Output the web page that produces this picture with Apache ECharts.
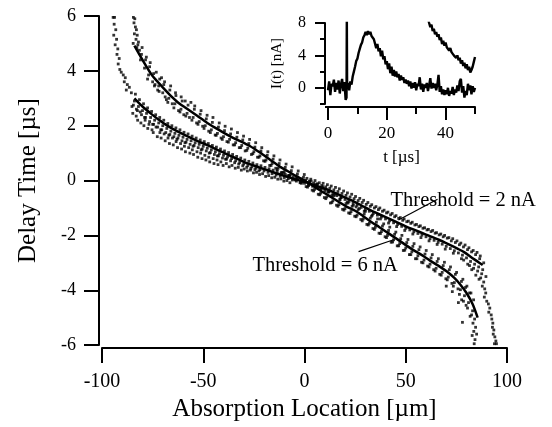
<!DOCTYPE html>
<html>
<head>
<meta charset="utf-8">
<script src="https://cdn.jsdelivr.net/npm/echarts@6/dist/echarts.min.js"></script>
<style>
html,body{margin:0;padding:0;background:#fff}
#wrap{position:relative;width:552px;height:427px}
#c{position:absolute;left:0;top:0;width:552px;height:427px}
#inset{position:absolute;left:200px;top:0;width:352px;height:200px}
</style>
</head>
<body>
<div id="wrap"><div id="c"></div><div id="inset"></div></div>
<script>
// ---- main plot: smooth fit curves ----
const curve6X = [-84, -80, -75, -70, -66, -62, -58, -53, -48, -44, -40, -35, -30, -27, -22, -17, -12, -8, -4, 0, 4, 8, 12, 17, 21, 25, 29, 33, 37, 41, 45, 49, 53, 58, 62, 66, 70, 74, 77, 80, 83, 85.5];
const curve6Y = [4.92, 4.4, 3.81, 3.4, 3.09, 2.82, 2.62, 2.36, 2.1, 1.92, 1.75, 1.55, 1.37, 1.26, 1.02, 0.76, 0.5, 0.33, 0.16, 0.0, -0.18, -0.37, -0.55, -0.78, -0.96, -1.1, -1.3, -1.51, -1.7, -1.9, -2.1, -2.3, -2.5, -2.72, -2.92, -3.1, -3.3, -3.55, -3.8, -4.1, -4.5, -5.0];
const curve2X = [-84, -80, -76, -72, -68, -63, -58, -53, -48, -43, -39, -35, -30, -24, -18, -12, -6, 0, 6, 12, 18, 24, 28, 33, 39, 45, 50, 55, 60, 66, 71, 76, 79, 82, 85, 88];
const curve2Y = [3.0, 2.7, 2.45, 2.22, 2.01, 1.8, 1.62, 1.45, 1.29, 1.12, 0.98, 0.85, 0.68, 0.52, 0.37, 0.22, 0.08, -0.05, -0.2, -0.35, -0.55, -0.75, -0.9, -1.1, -1.3, -1.5, -1.67, -1.82, -1.97, -2.15, -2.32, -2.5, -2.62, -2.78, -2.93, -3.08];

// ---- main plot: measured points ----
const points6nA = [
[-84.5,5.95],[-83.8,5.9],[-84.2,5.75],[-83.5,5.6],[-83,5.5],[-84,5.35],[-82.6,5.3],[-83.2,5.15],[-82,5.05],[-84.6,5.0],[-82.8,4.85],[-81.5,4.75],
[-81,4.4],[-80.5,4.6],[-79,4.1],[-78.5,4.4],[-77,3.85],[-76.5,4.15],[-77.5,3.7],[-75,3.6],[-74.5,3.9],[-73.8,3.5],
[-72,3.45],[-71.5,3.7],[-72.5,3.3],[-70,3.2],[-69.5,3.5],[-68.8,3.05],[-67,3.0],[-66.5,3.3],[-67.5,2.85],
[-64,2.8],[-63.5,3.1],[-64.5,2.65],[-61,2.6],[-60.4,2.9],[-61.5,2.5],[-58,2.45],[-57.5,2.75],[-58.6,2.35],
[-55,2.3],[-54.4,2.6],[-55.6,2.2],[-52,2.15],[-51.5,2.42],[-52.6,2.05],[-49,2.0],[-48.5,2.25],[-49.6,1.9],
[-46,1.85],[-45.5,2.12],[-46.5,1.75],[-43,1.72],[-42.5,1.95],[-43.6,1.65],[-40,1.6],[-39.5,1.82],[-40.6,1.5],
[-37,1.5],[-36.5,1.7],[-37.6,1.4],[-34,1.38],[-33.4,1.58],[-34.5,1.3],[-31,1.28],[-30.5,1.48],[-31.5,1.2],
[-28,1.18],[-27.5,1.35],[-28.5,1.1],[-25,1.05],[-24.5,1.22],[-25.5,0.98],[-22,0.9],[-21.5,1.08],[-22.5,0.85],
[-19,0.75],[-18.4,0.92],[-19.5,0.7],[-16,0.62],[-15.5,0.78],[-16.5,0.55],[-13,0.45],[-12.5,0.62],[-13.5,0.4],
[-10,0.32],[-9.5,0.48],[-10.5,0.28],[-7,0.2],[-6.5,0.36],[-7.5,0.15],[-4,0.08],[-3.5,0.24],[-4.5,0.02],
[-1,-0.05],[-0.5,0.12],[-1.5,-0.1],[2,-0.18],[2.5,-0.02],[1.5,-0.24],[5,-0.32],[5.5,-0.15],[4.5,-0.38],
[8,-0.46],[8.5,-0.28],[7.5,-0.52],[11,-0.6],[11.5,-0.42],[10.5,-0.66],[14,-0.74],[14.5,-0.55],[13.5,-0.8],
[17,-0.88],[17.5,-0.7],[16.5,-0.94],[20,-1.02],[20.5,-0.84],[19.5,-1.08],[23,-1.13],[23.5,-0.94],[22.5,-1.2],
[26,-1.26],[26.5,-1.06],[25.5,-1.32],[29,-1.4],[29.5,-1.22],[28.5,-1.47],[32,-1.56],[32.5,-1.37],[31.5,-1.62],
[35,-1.7],[35.5,-1.52],[34.5,-1.78],[38,-1.86],[38.5,-1.66],[37.5,-1.93],[41,-2.0],[41.5,-1.82],[40.5,-2.08],
[44,-2.16],[44.5,-1.96],[43.5,-2.24],[47,-2.3],[47.5,-2.12],[46.5,-2.38],[50,-2.46],[50.5,-2.26],[49.5,-2.54],
[53,-2.6],[53.5,-2.4],[52.5,-2.7],[56,-2.74],[56.5,-2.52],[55.5,-2.85],[59,-2.9],[59.5,-2.68],[58.5,-3.0],
[62,-3.05],[62.5,-2.82],[61.5,-3.15],[65,-3.2],[65.5,-2.95],[64.5,-3.3],[68,-3.35],[68.5,-3.1],[67.5,-3.45],
[71,-3.52],[71.5,-3.25],[70.5,-3.62],[74,-3.72],[74.5,-3.42],[73.5,-3.85],[77,-3.98],[77.5,-3.68],[76.5,-4.15],
[79,-4.2],[79.5,-3.9],[78.5,-4.4],[81,-4.45],[81.5,-4.1],[80.5,-4.65],[83,-4.75],[82.5,-4.9],[83.5,-4.35],
[84,-5.05],[83.2,-5.2],[84.5,-5.35],[83.6,-5.5],[82.8,-5.65],[84.2,-5.8],[83.8,-5.95],[78,-5.17],[85,-5.6],
[-82.3,4.95],[-80.2,4.85],[-78.1,4.5],[-76.2,4.3],[-74.1,3.45],[-73.2,3.95],[-71.8,3.25],[-70.6,3.75],[-69.1,3.6],[-68.2,2.95],
[-66.1,3.45],[-65.3,2.8],[-63.7,3.2],[-62.2,2.55],[-60.9,3.05],[-59.6,2.4],[-58.9,2.9],[-56.8,2.3],[-56.1,2.85],[-54.2,2.72],
[-53.3,2.1],[-51.1,2.55],[-50.3,1.98],[-48.1,2.38],[-47.3,1.8],[-45.2,2.3],[-44.1,1.66],[-42.1,2.1],[-41.2,1.55],[-39.2,1.98],
[-38.3,1.42],[-36.1,1.88],[-35.2,1.3],[-33.1,1.75],[-32.2,1.2],[-30.1,1.62],[-29.3,1.08],[-27.1,1.5],[-26.2,0.95],[-24.1,1.38],
[-23.2,0.85],[-21.1,1.2],[-20.2,0.72],[-18.1,1.05],[-17.2,0.55],[-15.1,0.9],[-14.2,0.45],[-12.1,0.75],[-11.2,0.3],[-9.1,0.6],
[-8.2,0.18],[-6.1,0.5],[-5.2,0.05],[-3.1,0.35],[-2.2,-0.08],[-0.1,0.22],[0.8,-0.22],[3.1,0.05],[3.8,-0.35],[6.1,-0.12],
[6.8,-0.5],[9.1,-0.22],[9.8,-0.62],[12.1,-0.4],[12.8,-0.82],[15.1,-0.5],[15.8,-0.9],[18.1,-0.62],[18.8,-1.05],[21.1,-0.78],
[21.8,-1.18],[24.1,-0.9],[24.8,-1.3],[27.1,-1.02],[27.8,-1.42],[30.1,-1.12],[30.8,-1.6],[33.1,-1.3],[33.8,-1.75],[36.1,-1.4],
[36.8,-1.92],[39.1,-1.58],[39.8,-2.05],[42.1,-1.7],[42.8,-2.25],[45.1,-1.88],[45.8,-2.38],[48.1,-2.0],[48.8,-2.55],[51.1,-2.15],
[51.8,-2.7],[54.1,-2.3],[54.8,-2.85],[57.1,-2.42],[57.8,-2.98],[60.1,-2.55],[60.8,-3.12],[63.1,-2.7],[63.8,-3.25],[66.1,-2.85],
[66.8,-3.42],[69.1,-2.98],[69.8,-3.58],[72.1,-3.15],[72.8,-3.75],[75.1,-3.35],[75.8,-3.95],[77.6,-4.35],[78.2,-3.6],[79.8,-4.55],
[80.2,-3.85],[81.8,-4.95],[82.2,-4.1],[76,-4.45],[73,-4.05],[70,-3.85]
];
const points2nA = [
[-94.5,5.95],[-93.8,5.95],[-94,5.7],[-93.2,5.5],[-94.2,5.3],[-92.8,5.15],[-93.5,4.95],[-92.2,4.8],[-92.6,4.6],[-91.5,4.45],
[-92,4.25],[-91.2,4.05],[-90.5,3.95],[-89.5,3.85],[-88.5,3.75],[-89,3.6],[-87.5,3.5],[-86.5,3.4],[-88,3.3],[-85.5,3.2],
[-84,2.9],[-83.5,3.15],[-84.5,2.75],[-83,2.6],[-82,2.7],[-81.5,2.95],[-82.5,2.55],[-80,2.55],[-79.5,2.8],[-80.5,2.4],[-79,2.3],
[-78,2.45],[-77.5,2.65],[-78.5,2.3],[-76,2.3],[-75.5,2.52],[-76.5,2.15],[-75,2.05],[-74,2.2],[-73.5,2.4],[-74.5,2.05],
[-72,2.1],[-71.5,2.3],[-72.5,1.95],[-71,1.85],[-70,2.0],[-69.5,2.2],[-70.5,1.85],[-68,1.9],[-67.5,2.08],[-68.5,1.75],[-67,1.65],
[-66,1.8],[-65.5,2.0],[-66.5,1.68],[-64,1.72],[-63.5,1.92],[-64.5,1.6],[-63,1.5],[-62,1.65],[-61.5,1.85],[-62.5,1.55],
[-60,1.58],[-59.5,1.76],[-60.5,1.45],[-59,1.38],[-58,1.5],[-57.5,1.7],[-58.5,1.4],[-56,1.45],[-55.5,1.62],[-56.5,1.32],[-55,1.25],
[-54,1.38],[-53.5,1.55],[-54.5,1.28],[-52,1.32],[-51.5,1.48],[-52.5,1.2],[-51,1.12],[-50,1.25],[-49.5,1.42],[-50.5,1.15],
[-48,1.18],[-47.5,1.35],[-48.5,1.08],[-47,1.0],[-46,1.12],[-45.5,1.28],[-46.5,1.02],[-44,1.05],[-43.5,1.22],[-44.5,0.95],[-43,0.9],
[-42,0.98],[-41.5,1.15],[-42.5,0.9],[-40,0.92],[-39.5,1.08],[-40.5,0.82],[-39,0.78],[-38,0.86],[-37.5,1.02],[-38.5,0.78],
[-36,0.8],[-35.5,0.95],[-36.5,0.72],[-34,0.72],[-33.5,0.88],[-34.5,0.65],[-32,0.66],[-31.5,0.82],[-32.5,0.6],
[-30,0.6],[-29.5,0.75],[-30.5,0.54],[-28,0.55],[-27.5,0.7],[-28.5,0.48],[-26,0.5],[-25.5,0.64],[-26.5,0.44],
[-24,0.45],[-23.5,0.58],[-24.5,0.4],[-22,0.4],[-21.5,0.54],[-22.5,0.35],[-20,0.35],[-19.5,0.48],[-18,0.3],[-17.5,0.43],
[-16,0.25],[-15.5,0.38],[-14,0.2],[-13.5,0.33],[-12,0.16],[-11.5,0.28],[-10,0.11],[-9.5,0.23],[-8,0.07],[-7.5,0.19],
[-6,0.02],[-5.5,0.14],[-4,-0.02],[-3.5,0.1],[-2,-0.06],[-1.5,0.06],[0,-0.1],[0.5,0.01],[2,-0.16],[2.5,-0.04],
[4,-0.21],[4.5,-0.09],[6,-0.26],[6.5,-0.13],[8,-0.31],[8.5,-0.18],[10,-0.37],[10.5,-0.23],[12,-0.42],[12.5,-0.28],
[14,-0.49],[14.5,-0.34],[13.5,-0.55],[16,-0.55],[16.5,-0.4],[18,-0.62],[18.5,-0.47],[17.5,-0.68],[20,-0.69],[20.5,-0.54],
[22,-0.76],[22.5,-0.6],[21.5,-0.82],[24,-0.83],[24.5,-0.66],[26,-0.9],[26.5,-0.73],[25.5,-0.96],[28,-0.98],[28.5,-0.8],
[30,-1.05],[30.5,-0.87],[29.5,-1.12],[32,-1.12],[32.5,-0.94],[34,-1.2],[34.5,-1.0],[33.5,-1.26],[36,-1.26],[36.5,-1.06],
[38,-1.33],[38.5,-1.12],[37.5,-1.4],[40,-1.4],[40.5,-1.18],[42,-1.47],[42.5,-1.25],[41.5,-1.55],[44,-1.54],[44.5,-1.32],
[46,-1.6],[46.5,-1.38],[45.5,-1.68],[48,-1.67],[48.5,-1.45],[50,-1.74],[50.5,-1.5],[49.5,-1.82],[52,-1.8],[52.5,-1.56],
[54,-1.87],[54.5,-1.62],[53.5,-1.95],[56,-1.93],[56.5,-1.68],[58,-1.99],[58.5,-1.74],[57.5,-2.08],[60,-2.05],[60.5,-1.8],
[62,-2.12],[62.5,-1.86],[61.5,-2.2],[64,-2.18],[64.5,-1.92],[66,-2.25],[66.5,-1.98],[65.5,-2.33],[68,-2.32],[68.5,-2.05],
[70,-2.4],[70.5,-2.1],[69.5,-2.5],[72,-2.48],[72.5,-2.2],[74,-2.56],[74.5,-2.26],[73.5,-2.65],[76,-2.64],[76.5,-2.34],
[78,-2.72],[78.5,-2.42],[77.5,-2.85],[80,-2.82],[80.5,-2.52],[82,-2.95],[82.5,-2.6],[81.5,-3.1],[84,-3.05],[84.5,-2.7],[83.5,-3.2],
[86,-3.15],[86.5,-2.85],[85.5,-3.3],[88,-3.25],[87.5,-3.4],[88.5,-3.0],
[87,-3.55],[88.5,-3.7],[87.8,-3.85],[89,-3.95],[89.5,-4.1],[88.8,-4.25],[90,-4.4],[90.8,-4.5],[91.5,-4.65],[91,-4.8],
[92.2,-4.9],[92.5,-5.05],[93,-5.2],[92.8,-5.35],[93.5,-5.45],[93.2,-5.6],[94,-5.7],[94.5,-5.85],[93.8,-5.95],[94.8,-5.95],
[-85.2,2.7],[-84.8,2.45],[-83.1,2.35],[-82.4,2.2],[-81.1,2.5],[-80.8,2.1],[-79.3,2.0],[-78.7,2.2],[-77.4,1.9],[-76.8,2.05],
[-75.3,1.85],[-74.7,1.75],[-73.3,1.95],[-72.7,1.6],[-71.4,1.75],[-70.8,1.55],[-69.3,1.7],[-68.8,1.45],[-67.4,1.55],[-66.7,1.35],
[-65.2,1.55],[-64.8,1.3],[-63.4,1.42],[-62.7,1.2],[-61.2,1.35],[-60.7,1.15],[-59.3,1.25],[-58.8,1.05],[-57.2,1.2],[-56.6,1.0],
[-55.4,1.12],[-54.8,0.95],[-53.1,1.05],[-52.7,0.85],[-51.3,1.0],[-50.6,0.8],[-49.2,0.92],[-48.7,0.75],[-47.3,0.85],[-46.8,0.68],
[-45.1,0.8],[-44.7,0.62],[-43.2,0.75],[-42.7,0.58],[-41.3,0.68],[-40.2,0.55],[-38.6,0.62],[-37.2,0.5],[-35.8,0.55],[-34.2,0.45],
[-32.7,0.48],[-31.2,0.38],[-29.8,0.42],[-28.2,0.35],[-26.7,0.38],[-25.2,0.28],[-23.7,0.3],[-22.2,0.22],[-20.7,0.25],[-19.2,0.15],
[-17.7,0.18],[-16.2,0.1],[-14.7,0.12],[-13.2,0.05],[-11.7,0.06],[-10.2,-0.02],[-8.7,0.0],[-7.2,-0.08],
[1.2,0.08],[3.3,-0.02],[5.2,0.0],[7.3,-0.08],[9.2,-0.1],[11.3,-0.15],[13.2,-0.2],[15.3,-0.25],[17.2,-0.3],[19.3,-0.38],
[21.2,-0.45],[23.3,-0.5],[25.2,-0.58],[27.3,-0.65],[29.2,-0.72],[31.3,-0.8],[33.2,-0.88],[35.3,-0.95],[37.2,-1.0],[39.3,-1.08],
[41.2,-1.15],[43.3,-1.2],[45.2,-1.28],[47.3,-1.35],[49.2,-1.4],[51.3,-1.48],[53.2,-1.52],[55.3,-1.6],[57.2,-1.65],[59.3,-1.72],
[61.2,-1.78],[63.3,-1.82],[65.2,-1.9],[67.3,-1.95],[69.2,-2.0],[71.3,-2.08],[73.2,-2.12],[75.3,-2.2],[77.2,-2.28],[79.3,-2.35],
[81.2,-2.45],[83.3,-2.55],[85.2,-2.62],[86.8,-2.75],[84.6,-3.45],[82.6,-3.25],[80.6,-3.05],[78.6,-2.9],[86.2,-3.6],[89.6,-3.5]
];

// ---- annotations ----
const labelTexts = ['Threshold = 2 nA', 'Threshold = 6 nA'];
const labelAnchors = [[42.5, -0.74], [-25.7, -3.1]];
const pointer2nA = [[46.4, -1.44], [65.7, -0.68]];
const pointer6nA = [[44.0, -2.16], [26.7, -2.59]];

// ---- inset: current trace I(t) ----
const insetT = [0,0.4,0.8,1.2,1.6,2.0,2.4,2.8,3.2,3.6,4.0,4.4,4.8,5.2,5.6,6.0,6.3,6.4,6.5,6.8,7.2,7.6,8.0,8.4,8.8,9.2,9.6,10.0,10.4,10.8,11.2,11.6,12.0,12.4,12.8,13.2,13.6,14.0,14.4,14.8,15.2,15.6,16.0,16.4,16.8,17.2,17.6,18.0,18.4,18.8,19.2,19.6,20.0,20.4,20.8,21.2,21.6,22.0,22.4,22.8,23.2,23.6,24.0,24.4,24.8,25.2,25.6,26.0,26.4,26.8,27.2,27.6,28.0,28.4,28.8,29.2,29.6,30.0,30.4,30.8,31.2,31.6,32.0,32.4,32.8,33.2,33.6,34.0,34.4,34.8,35.2,35.6,36.0,36.4,36.8,37.2,37.6,38.0,38.4,38.8,39.2,39.6,40.0,40.4,40.8,41.2,41.6,42.0,42.4,42.8,43.2,43.6,44.0,44.4,44.8,45.2,45.6,46.0,46.4,46.8,47.2,47.6,48.0,48.4,48.8,49.2,49.6,50.0];
const insetI = [-0.3,0.8,-0.9,0.5,0.2,1.0,-0.5,0.6,-0.2,0.9,-0.7,0.4,1.1,-0.4,0.7,-1.5,-1.2,9.0,0.3,0.6,-0.3,0.8,0.4,1.4,2.0,2.6,3.3,3.6,4.3,4.8,5.3,5.6,6.2,6.5,6.9,6.5,7.0,6.6,6.9,6.4,6.6,6.0,5.8,4.9,5.4,4.5,4.9,3.9,4.6,3.5,3.9,2.9,3.3,2.3,3.0,1.8,2.6,1.5,2.2,1.4,2.0,1.3,1.7,0.9,1.5,1.0,1.3,0.6,1.0,0.5,0.9,0.2,0.8,-0.1,0.6,0.0,0.7,-0.3,0.5,0.2,1.3,-0.2,0.5,-0.5,0.4,0.0,0.6,-0.4,0.3,1.2,-0.1,0.6,0.0,0.5,-0.3,0.4,1.6,-0.5,0.2,-0.8,-0.2,-0.9,-0.3,-0.8,0.0,-1.0,-0.4,-0.7,0.1,-0.9,-0.2,-0.6,0.3,-0.4,0.8,1.1,-0.6,0.2,-1.2,-0.4,-0.9,0.5,-0.3,0.3,-0.8,0.2,-0.5,0.0];
const tailT = [34.2,34.4,34.8,35.2,35.6,36.0,36.4,36.8,37.2,37.6,38.0,38.4,38.8,39.2,39.6,40.0,40.4,40.8,41.2,41.6,42.0,42.4,42.8,43.2,43.6,44.0,44.4,44.8,45.2,45.6,46.0,46.4,46.8,47.2,47.6,48.0,48.4,48.8,49.2,49.6,50.0];
const tailI = [8.3,8.0,7.5,7.8,7.0,7.3,6.6,6.9,6.3,6.6,5.9,6.2,5.4,5.8,5.2,5.6,5.0,5.1,4.6,4.9,4.4,4.6,4.0,4.2,3.7,4.0,3.4,3.7,3.0,3.4,2.7,3.1,2.4,2.9,2.2,2.6,1.9,2.2,2.6,3.2,3.8];

// ---- tick labels ----
const mainXTicks = [-100, -50, 0, 50, 100];
const mainYTicks = [-6, -4, -2, 0, 2, 4, 6];
const insetXTicks = [0, 20, 40];
const insetYTicks = [0, 4, 8];

const zip = (a, b) => a.map((v, i) => [v, b[i]]);
const FONT = 'Liberation Serif';
const BLACK = '#000';

function line(show) { return {show: show, onZero: false, lineStyle: {color: BLACK, width: 2}}; }
function tick(len) { return {show: true, inside: false, length: len, lineStyle: {color: BLACK, width: 2}}; }
function lab(size, margin, ticks) {
  return {show: true, color: BLACK, fontFamily: FONT, fontSize: size, margin: margin,
    formatter: v => ticks.includes(v) ? String(v) : ''};
}

// ================= main chart =================
const chart = echarts.init(document.getElementById('c'), null, {renderer: 'canvas'});
chart.setOption({
  animation: false,
  backgroundColor: '#fff',
  textStyle: {fontFamily: FONT, color: BLACK},
  grid: [{left: 102, top: 16, width: 405, height: 334}],
  xAxis: [
    {type: 'value', gridIndex: 0, min: -100, max: 100, interval: 50, offset: 3, splitLine: {show: false},
      axisLine: line(true), axisTick: tick(15), axisLabel: lab(20, 24, mainXTicks),
      name: 'Absorption Location [µm]', nameLocation: 'middle', nameGap: 45,
      nameTextStyle: {color: BLACK, fontFamily: FONT, fontSize: 25}}
  ],
  yAxis: [
    {type: 'value', gridIndex: 0, min: -6, max: 6, interval: 2, offset: 3, splitLine: {show: false},
      axisLine: line(true), axisTick: tick(15), axisLabel: lab(18, 23, mainYTicks),
      name: 'Delay Time [µs]', nameLocation: 'middle', nameGap: 58,
      nameTextStyle: {color: BLACK, fontFamily: FONT, fontSize: 25}}
  ],
  series: [
    {type: 'scatter', name: 'points 2 nA', data: points2nA,
      symbol: 'rect', symbolSize: 2.8, itemStyle: {color: BLACK}},
    {type: 'scatter', name: 'points 6 nA', data: points6nA,
      symbol: 'rect', symbolSize: 2.8, itemStyle: {color: BLACK}},
    {type: 'line', name: 'fit 6 nA', data: zip(curve6X, curve6Y),
      showSymbol: false, smooth: 0.3, lineStyle: {color: BLACK, width: 2.5}},
    {type: 'line', name: 'fit 2 nA', data: zip(curve2X, curve2Y),
      showSymbol: false, smooth: 0.3, lineStyle: {color: BLACK, width: 2.5}},
    {type: 'line', name: 'pointer 2 nA', data: pointer2nA,
      showSymbol: false, lineStyle: {color: BLACK, width: 1.2}},
    {type: 'line', name: 'pointer 6 nA', data: pointer6nA,
      showSymbol: false, lineStyle: {color: BLACK, width: 1.2}}
  ]
});
const labelGraphics = labelTexts.map((t, i) => {
  const p = chart.convertToPixel({xAxisIndex: 0, yAxisIndex: 0}, labelAnchors[i]);
  return {type: 'text', x: p[0], y: p[1], silent: true,
    style: {text: t, fill: BLACK, font: '20.5px "Liberation Serif"', textAlign: 'left', textVerticalAlign: 'middle'}};
});
chart.setOption({graphic: labelGraphics});

// ================= inset chart (own instance, placed at left 200 / top 0) =================
const inset = echarts.init(document.getElementById('inset'), null, {renderer: 'canvas'});
inset.setOption({
  animation: false,
  textStyle: {fontFamily: FONT, color: BLACK},
  grid: [
    {left: 128, top: 23, width: 147, height: 81},
    {left: 128, top: 23, width: 117.6, height: 81},
    {left: 128, top: 23, width: 147, height: 64.8},
    {left: 125, top: 107, width: 150, height: 0, show: true, borderColor: BLACK, borderWidth: 2,
      backgroundColor: 'transparent'}
  ],
  xAxis: [
    {type: 'value', gridIndex: 0, min: 0, max: 50, interval: 10, offset: 3, splitLine: {show: false},
      axisLine: {show: true, onZero: false, lineStyle: {color: BLACK, width: 2}},
      axisTick: {show: true, length: 7, lineStyle: {color: BLACK, width: 2}},
      axisLabel: {show: false},
      name: 't [µs]', nameLocation: 'middle', nameGap: 42,
      nameTextStyle: {color: BLACK, fontFamily: FONT, fontSize: 17}},
    {type: 'value', gridIndex: 1, min: insetXTicks[0], max: insetXTicks[insetXTicks.length - 1], interval: 20, offset: 3,
      splitLine: {show: false},
      axisLine: {show: false, onZero: false},
      axisTick: {show: true, length: 13, lineStyle: {color: BLACK, width: 2}},
      axisLabel: {show: true, color: BLACK, fontFamily: FONT, fontSize: 17, margin: 18}},
    {type: 'value', gridIndex: 2, min: 0, max: 50, show: false, axisLine: {onZero: false}}
  ],
  yAxis: [
    {type: 'value', gridIndex: 0, min: -2, max: 8, interval: 2, offset: 3, splitLine: {show: false},
      axisLine: {show: true, onZero: false, lineStyle: {color: BLACK, width: 2}},
      axisTick: {show: true, length: 5, lineStyle: {color: BLACK, width: 2}},
      axisLabel: {show: false},
      name: 'I(t) [nA]', nameLocation: 'middle', nameGap: 40,
      nameTextStyle: {color: BLACK, fontFamily: FONT, fontSize: 15}},
    {type: 'value', gridIndex: 1, min: -2, max: 8, show: false, axisLine: {onZero: false}},
    {type: 'value', gridIndex: 2, min: insetYTicks[0], max: insetYTicks[insetYTicks.length - 1], interval: 4, offset: 3,
      splitLine: {show: false},
      axisLine: {show: false, onZero: false},
      axisTick: {show: true, length: 10, lineStyle: {color: BLACK, width: 2}},
      axisLabel: {show: true, color: BLACK, fontFamily: FONT, fontSize: 16, margin: 19}}
  ],
  series: [
    {type: 'line', name: 'I(t)', xAxisIndex: 0, yAxisIndex: 0, data: zip(insetT, insetI),
      showSymbol: false, lineStyle: {color: BLACK, width: 2.4}},
    {type: 'line', name: 'I(t) tail', xAxisIndex: 0, yAxisIndex: 0, data: zip(tailT, tailI),
      showSymbol: false, lineStyle: {color: BLACK, width: 2.4}}
  ]
});
</script>
</body>
</html>
